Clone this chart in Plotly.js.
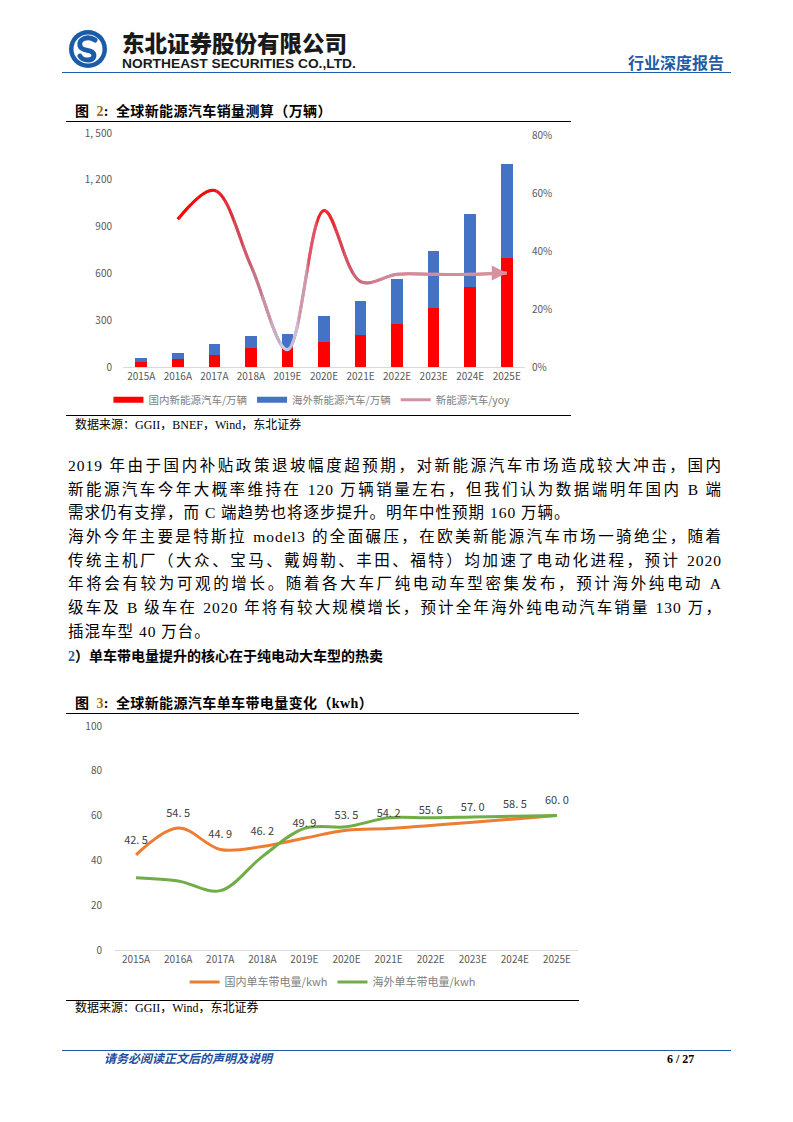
<!DOCTYPE html>
<html><head><meta charset="utf-8">
<script src="https://cdn.plot.ly/plotly-3.0.1.min.js"></script>
<style>
html,body{margin:0;padding:0;background:#fff;}
#page{position:relative;width:793px;height:1122px;overflow:hidden;background:#fff;font-family:"Liberation Serif","Noto Sans CJK SC",serif;color:#000;}
.abs{position:absolute;white-space:nowrap;line-height:1;}
.rule{position:absolute;height:0;}
.ftitle{font-size:14px;font-weight:700;letter-spacing:0.4px;}
.ftitle .num{color:#9c6b00;margin-left:7px;}
.ftitle .rest{margin-left:7px;}
.src{font-size:12px;}
#body{position:absolute;left:68px;top:454px;width:654px;font-size:15.5px;line-height:23.7px;letter-spacing:1px;}
#body div{white-space:nowrap;height:23.7px;overflow:visible;}
#body .j{text-align:justify;text-align-last:justify;}
</style></head><body>
<div id="page">
  <svg class="abs" style="left:68px;top:29px" width="40" height="40" viewBox="0 0 40 40">
    <circle cx="20" cy="20" r="19" fill="#1b5ca9"/>
    <circle cx="20" cy="20" r="14.5" fill="#fff"/>
    <path d="M27 11 C20 6 10 10 12 17 C13 21 19 21 22 22 C28 24 27 31 20 31 C16 31 13 29 12 27" fill="none" stroke="#1b5ca9" stroke-width="5" stroke-linecap="round"/>
  </svg>
  <div class="abs" style="left:122px;top:31px;height:22px;line-height:22px;font-family:'Noto Sans CJK SC';font-weight:900;font-size:22.5px;color:#1a1a1a;">东北证券股份有限公司</div>
  <div class="abs" style="left:122px;top:58px;height:12px;line-height:12px;font-family:'Liberation Sans';font-weight:700;font-size:13.5px;color:#1a1a1a;transform:scaleX(1.02);transform-origin:left top;">NORTHEAST SECURITIES CO.,LTD.</div>
  <div class="abs" style="left:628px;top:54px;font-family:'Noto Sans CJK SC';font-weight:700;font-size:16px;color:#1f5ca8;">行业深度报告</div>
  <div class="rule" style="left:62px;top:72px;width:669px;border-top:1.6px solid #1f5ca8;"></div>

  <div class="abs ftitle" style="left:75px;top:105px;">图<span class="num">2</span>:<span class="rest">全球新能源汽车销量测算（万辆）</span></div>
  <div class="rule" style="left:66px;top:120.5px;width:505px;border-top:1.3px solid #000;"></div>
  <div id="chart1" class="abs" style="left:0px;top:122px;width:640px;height:330px;"></div>
  <div class="rule" style="left:66px;top:414.5px;width:505px;border-top:1.3px solid #000;"></div>
  <div class="abs src" style="left:75px;top:419px;">数据来源：GGII，BNEF，Wind，东北证券</div>

  <div id="body">
    <div class="j">2019 年由于国内补贴政策退坡幅度超预期，对新能源汽车市场造成较大冲击，国内</div>
    <div class="j">新能源汽车今年大概率维持在 120 万辆销量左右，但我们认为数据端明年国内 B 端</div>
    <div>需求仍有支撑，而 C 端趋势也将逐步提升。明年中性预期 160 万辆。</div>
    <div class="j">海外今年主要是特斯拉 model3 的全面碾压，在欧美新能源汽车市场一骑绝尘，随着</div>
    <div class="j">传统主机厂（大众、宝马、戴姆勒、丰田、福特）均加速了电动化进程，预计 2020</div>
    <div class="j">年将会有较为可观的增长。随着各大车厂纯电动车型密集发布，预计海外纯电动 A</div>
    <div class="j">级车及 B 级车在 2020 年将有较大规模增长，预计全年海外纯电动汽车销量 130 万，</div>
    <div>插混车型 40 万台。</div>
  </div>

  <div class="abs" style="left:68px;top:650px;font-size:14px;font-weight:700;"><span style="color:#2a55a0">2</span>）单车带电量提升的核心在于纯电动大车型的热卖</div>

  <div class="abs ftitle" style="left:75px;top:697px;">图<span class="num">3</span>:<span class="rest">全球新能源汽车单车带电量变化（kwh）</span></div>
  <div class="rule" style="left:66px;top:712.5px;width:513px;border-top:1.3px solid #000;"></div>
  <div id="chart2" class="abs" style="left:0px;top:716px;width:640px;height:320px;"></div>
  <div class="rule" style="left:66px;top:999.5px;width:513px;border-top:1.3px solid #000;"></div>
  <div class="abs src" style="left:75px;top:1002px;">数据来源：GGII，Wind，东北证券</div>

  <div class="rule" style="left:62px;top:1049.5px;width:669px;border-top:1.5px solid #1f5ca8;"></div>
  <div class="abs" style="left:104px;top:1052px;font-size:12px;font-weight:700;font-style:italic;color:#1f4fa0;font-family:'Noto Sans CJK SC';">请务必阅读正文后的声明及说明</div>
  <div class="abs" style="left:667px;top:1053px;font-size:12px;font-weight:700;">6 / 27</div>
</div>
<script>
// ---------- Figure 2 data ----------
const cats = ['2015A','2016A','2017A','2018A','2019E','2020E','2021E','2022E','2023E','2024E','2025E'];
const domesticSales = [33, 50, 78, 120, 120, 160, 202, 278, 378, 513, 700];
const overseasSales = [24, 39, 69, 78, 91, 170, 224, 287, 367, 467, 600];
const yoyPct = [null, 51, 61, 35, 6, 54, 29.5, 32, 32, 32, 32.5];
const leftTicks = [0, 300, 600, 900, 1200, 1500];
const leftTickText = ['0', '300', '600', '900', '1, 200', '1, 500'];
const rightTicks = [0, 20, 40, 60, 80];
const legend1 = ['国内新能源汽车/万辆', '海外新能源汽车/万辆', '新能源汽车/yoy'];

// ---------- Figure 3 data ----------
const domesticKwh = [42.5, 54.5, 44.9, 46.2, 49.9, 53.5, 54.2, 55.6, 57.0, 58.5, 60.0];
const overseasKwh = [32.3, 30.8, 26.5, 41.7, 54.3, 55.0, 59.0, 59.0, 59.4, 59.7, 60.0];
const kwhTicks = [0, 20, 40, 60, 80, 100];
const legend2 = ['国内单车带电量/kwh', '海外单车带电量/kwh'];

const FONT = '"Noto Sans CJK SC","Noto Sans",sans-serif';
const tickFont = {family: FONT, size: 10, color: '#595959'};

// gradient colour stops for the yoy line (position in category index units)
const stops = [[0.8,'#ff0000'],[1.9,'#f80808'],[2.6,'#d8404e'],[3.1,'#c46e80'],[3.6,'#c9a3b8'],[4.0,'#bed7f1'],[4.4,'#cc9fb4'],[4.8,'#ec3040'],[5.0,'#f41a1a'],[5.5,'#dc4656'],[6.0,'#c86e7e'],[6.7,'#d2889a'],[10.3,'#d6919e']];
function hex2rgb(h){return [parseInt(h.slice(1,3),16),parseInt(h.slice(3,5),16),parseInt(h.slice(5,7),16)];}
function colorAt(v){
  for(let i=0;i<stops.length-1;i++){
    const [p0,c0]=stops[i],[p1,c1]=stops[i+1];
    if(v<=p1){const t=Math.max(0,Math.min(1,(v-p0)/(p1-p0)));const a=hex2rgb(c0),b=hex2rgb(c1);
      return 'rgb('+a.map((x,j)=>Math.round(x+(b[j]-x)*t)).join(',')+')';}
  }
  return stops[stops.length-1][1];
}

const yRight = [0, 80.8];
const traces1 = [
  {type:'bar', x:cats, y:domesticSales, marker:{color:'#ff0000'}, showlegend:false, yaxis:'y'},
  {type:'bar', x:cats, y:overseasSales, marker:{color:'#4472c4'}, showlegend:false, yaxis:'y'},
  {type:'scatter', mode:'lines', x:[null], y:[null], name:legend1[0], line:{color:'#ff0000', width:6}},
  {type:'scatter', mode:'lines', x:[null], y:[null], name:legend1[1], line:{color:'#4472c4', width:6}},
  {type:'scatter', mode:'lines', x:cats, y:yoyPct, yaxis:'y2', name:legend1[2], line:{color:'#d6919e', width:3, shape:'spline', smoothing:1}}
];
const layout1 = {
  width:640, height:330, margin:{l:123, r:115, t:11, b:85},
  paper_bgcolor:'rgba(0,0,0,0)', plot_bgcolor:'rgba(0,0,0,0)',
  barmode:'stack', bargap:0.68,
  xaxis:{type:'category', categoryorder:'array', categoryarray:cats, range:[-0.5,10.5], showline:true, linecolor:'#d9d9d9', linewidth:1, ticks:'', showgrid:false, tickfont:tickFont, fixedrange:true},
  yaxis:{range:[0,1500], tickvals:leftTicks, ticktext:leftTickText, showgrid:false, zeroline:false, ticks:'', tickfont:tickFont, ticklabelstandoff:10},
  yaxis2:{overlaying:'y', side:'right', range:yRight, tickvals:rightTicks, ticktext:rightTicks.map(v=>v+'%'), showgrid:false, zeroline:false, ticks:'', tickfont:tickFont, ticklabelstandoff:6},
  legend:{orientation:'h', traceorder:'normal', x:0.47, xanchor:'center', y:-0.14, yanchor:'middle', font:{family:FONT, size:10.5, color:'#808080'}, itemwidth:30},
  annotations:[{x:cats[cats.length-1], y:yoyPct[yoyPct.length-1], xref:'x', yref:'y2', ax:-16, ay:0, text:'', showarrow:true, arrowhead:2, arrowsize:1, arrowwidth:3, arrowcolor:'#d6919e', standoff:0}]
};
// colour strips: same yoy series drawn in narrow clipped subplots to emulate the gradient line
const stripStart = 0.8, stripEnd = 10.3, nStrips = 38;
for(let k=0;k<nStrips;k++){
  const a = stripStart + (stripEnd-stripStart)*k/nStrips;
  const b = stripStart + (stripEnd-stripStart)*(k+1)/nStrips;
  const id = k+3;
  layout1['xaxis'+id] = {type:'category', categoryorder:'array', categoryarray:cats, range:[a,b], domain:[(a+0.5)/11,(b+0.5)/11], visible:false, anchor:'y'+id, fixedrange:true};
  layout1['yaxis'+id] = {range:yRight, domain:[0,1], visible:false, anchor:'x'+id, fixedrange:true};
  traces1.push({type:'scatter', mode:'lines', x:cats, y:yoyPct, xaxis:'x'+id, yaxis:'y'+id, showlegend:false, hoverinfo:'skip', line:{color:colorAt((a+b)/2), width:3, shape:'spline', smoothing:1}});
}
Plotly.newPlot('chart1', traces1, layout1, {staticPlot:true, displayModeBar:false});

const traces2 = [
  {type:'scatter', mode:'lines', x:cats, y:domesticKwh, name:legend2[0],
   line:{color:'#ed7d31', width:3, shape:'spline', smoothing:1}},
  {type:'scatter', mode:'lines', x:cats, y:overseasKwh, name:legend2[1],
   line:{color:'#70ad47', width:3, shape:'spline', smoothing:1}},
  {type:'scatter', mode:'markers+text', x:cats, y:domesticKwh, showlegend:false,
   text:domesticKwh.map(v=>v.toFixed(1).replace('.', '. ')), textposition:'top center',
   textfont:{family:FONT, size:11, color:'#404040'}, cliponaxis:false,
   marker:{size:12, opacity:0, color:'#ffffff'}}
];
const layout2 = {
  width:640, height:320, margin:{l:115, r:62, t:10, b:86},
  paper_bgcolor:'rgba(0,0,0,0)', plot_bgcolor:'rgba(0,0,0,0)',
  xaxis:{type:'category', categoryorder:'array', categoryarray:cats, range:[-0.5,10.5], showline:true, linecolor:'#d9d9d9', ticks:'', showgrid:false, tickfont:tickFont},
  yaxis:{range:[0,100], tickvals:kwhTicks, showgrid:false, zeroline:false, ticks:'', tickfont:tickFont, ticklabelstandoff:12},
  legend:{orientation:'h', traceorder:'normal', x:0.47, xanchor:'center', y:-0.143, yanchor:'middle', font:{family:FONT, size:11, color:'#808080'}},
  showlegend:true
};
Plotly.newPlot('chart2', traces2, layout2, {staticPlot:true, displayModeBar:false});
</script>
</body></html>
